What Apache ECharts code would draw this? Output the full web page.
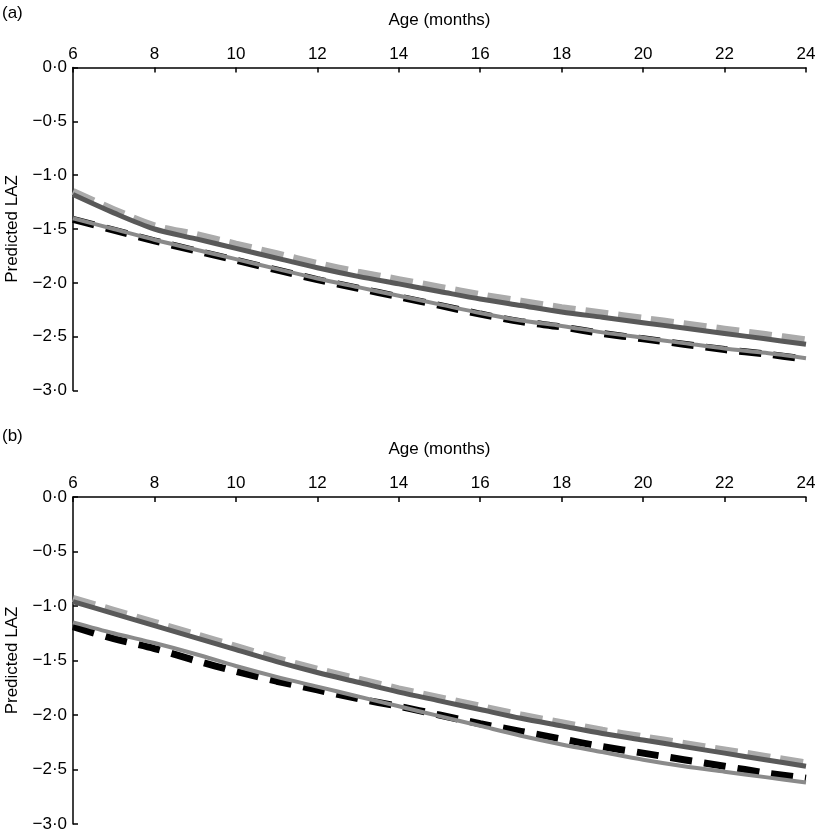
<!DOCTYPE html>
<html>
<head>
<meta charset="utf-8">
<script src="https://cdn.jsdelivr.net/npm/echarts@6/dist/echarts.min.js"></script>
<style>
html,body{margin:0;padding:0;background:#fff;}
#chart{width:816px;height:834px;}
</style>
</head>
<body>
<div id="chart"></div>
<script>
// Age in months
var months = [6,7,8,9,10,11,12,13,14,15,16,17,18,19,20,21,22,23,24];
var xTicks = [6,8,10,12,14,16,18,20,22,24];
var yTicks = [0,-0.5,-1,-1.5,-2,-2.5,-3];

// Panel (a)
var aLightDashed = [-1.15,-1.32,-1.47,-1.55,-1.64,-1.73,-1.82,-1.90,-1.97,-2.04,-2.11,-2.17,-2.23,-2.28,-2.33,-2.38,-2.43,-2.48,-2.53];
var aDarkSolid   = [-1.18,-1.35,-1.50,-1.59,-1.68,-1.77,-1.86,-1.94,-2.01,-2.08,-2.15,-2.21,-2.27,-2.32,-2.37,-2.42,-2.47,-2.52,-2.57];
var aBlackDashed = [-1.41,-1.51,-1.61,-1.70,-1.79,-1.88,-1.97,-2.05,-2.13,-2.21,-2.29,-2.36,-2.41,-2.47,-2.52,-2.57,-2.62,-2.66,-2.71];
var aGreySolid   = [-1.40,-1.50,-1.60,-1.69,-1.78,-1.87,-1.96,-2.04,-2.12,-2.20,-2.28,-2.35,-2.40,-2.46,-2.51,-2.56,-2.61,-2.65,-2.70];

// Panel (b)
var bLightDashed = [-0.93,-1.04,-1.15,-1.26,-1.37,-1.48,-1.58,-1.67,-1.76,-1.84,-1.92,-2.00,-2.07,-2.14,-2.20,-2.26,-2.32,-2.38,-2.44];
var bDarkSolid   = [-0.96,-1.07,-1.18,-1.29,-1.40,-1.51,-1.61,-1.70,-1.79,-1.87,-1.95,-2.03,-2.10,-2.17,-2.23,-2.29,-2.35,-2.41,-2.47];
var bBlackDashed = [-1.19,-1.30,-1.39,-1.50,-1.60,-1.69,-1.77,-1.85,-1.92,-2.00,-2.08,-2.15,-2.22,-2.29,-2.35,-2.41,-2.47,-2.53,-2.58];
var bGreySolid   = [-1.15,-1.25,-1.34,-1.44,-1.55,-1.65,-1.74,-1.83,-1.92,-2.01,-2.10,-2.19,-2.27,-2.34,-2.41,-2.47,-2.52,-2.57,-2.62];

var FONT = '"Liberation Sans", Arial, Helvetica, sans-serif';
var FS = 17;

function pairs(arr){ return months.map(function(m,i){ return [m, arr[i]]; }); }
function yFmt(v){
  var s = Math.abs(v).toFixed(1).replace('.', '\u00b7');
  return (v < -1e-9 ? '\u2212' : '') + s;
}

function xAxisCfg(gi){
  return {
    type:'value', gridIndex:gi, position:'top', min:6, max:24, interval:2,
    name:'Age (months)', nameLocation:'middle', nameGap:39,
    nameTextStyle:{color:'#000', fontSize:FS, fontFamily:FONT},
    axisLine:{show:true, lineStyle:{color:'#000', width:1.5}},
    axisTick:{show:true, inside:true, length:5, lineStyle:{color:'#000', width:1.5}},
    axisLabel:{color:'#000', fontSize:FS, fontFamily:FONT, margin:5},
    splitLine:{show:false}
  };
}
function yAxisCfg(gi){
  return {
    type:'value', gridIndex:gi, min:-3, max:0, interval:0.5,
    name:'Predicted LAZ', nameLocation:'middle', nameGap:52, nameRotate:90,
    nameTextStyle:{color:'#000', fontSize:FS, fontFamily:FONT},
    axisLine:{show:true, lineStyle:{color:'#000', width:1.5}},
    axisTick:{show:true, inside:true, length:5, lineStyle:{color:'#000', width:1.5}},
    axisLabel:{color:'#000', fontSize:FS, fontFamily:FONT, margin:6, formatter:yFmt},
    splitLine:{show:false}
  };
}
function line(gi, arr, color, width, dash, z){
  return {
    type:'line', xAxisIndex:gi, yAxisIndex:gi, data:pairs(arr),
    showSymbol:false, symbol:'none', smooth:0.3, z:z,
    lineStyle:{color:color, width:width, type:dash || 'solid', cap:'butt'},
    emphasis:{disabled:true}, silent:true, animation:false
  };
}

var chart = echarts.init(document.getElementById('chart'), null, {renderer:'canvas'});
chart.setOption({
  backgroundColor:'#fff',
  animation:false,
  graphic:[
    {type:'text', left:2, top:5, style:{text:'(a)', fill:'#000', font:FS + 'px ' + FONT}},
    {type:'text', left:2, top:428, style:{text:'(b)', fill:'#000', font:FS + 'px ' + FONT}}
  ],
  grid:[
    {left:73, top:67.5, width:733, height:323, containLabel:false, outerBoundsMode:'none'},
    {left:73, top:497, width:733, height:327, containLabel:false, outerBoundsMode:'none'}
  ],
  xAxis:[xAxisCfg(0), xAxisCfg(1)],
  yAxis:[yAxisCfg(0), yAxisCfg(1)],
  series:[
    line(0, aLightDashed, '#ababab', 7, [23,10], 1),
    line(0, aDarkSolid, '#595959', 5, 'solid', 2),
    line(0, aBlackDashed, '#000', 7, [22,12], 3),
    line(0, aGreySolid, '#8a8a8a', 4, 'solid', 4),
    line(1, bLightDashed, '#ababab', 7, [23,10], 1),
    line(1, bDarkSolid, '#595959', 5, 'solid', 2),
    line(1, bBlackDashed, '#000', 7, [22,12], 3),
    line(1, bGreySolid, '#8a8a8a', 4, 'solid', 4)
  ]
});
</script>
</body>
</html>
